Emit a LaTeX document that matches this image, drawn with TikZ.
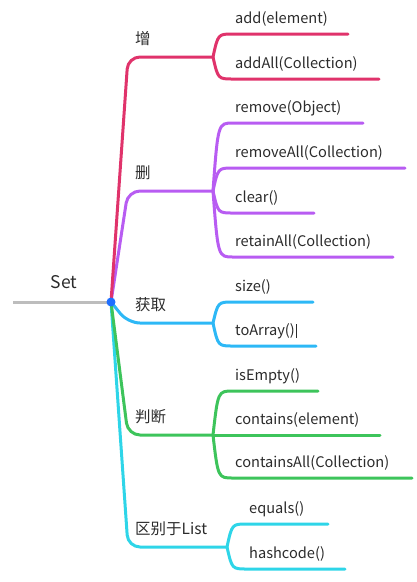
\documentclass[tikz,border=0pt]{standalone}
\usepackage{fontspec}
\setmainfont{Noto Sans CJK SC}
\usetikzlibrary{calc}
\definecolor{Ink}{HTML}{2B2B2B}
\definecolor{Ash}{HTML}{BDBDBD}
\definecolor{Dot}{HTML}{1E6FFF}
\definecolor{Rose}{HTML}{E0336B}
\definecolor{Violet}{HTML}{B85CF2}
\definecolor{Sky}{HTML}{2DB8F6}
\definecolor{Grass}{HTML}{3DC45B}
\definecolor{Aqua}{HTML}{2ED5E8}

\tikzset{
  limb/.style={line width=3pt,line cap=round},
  topic/.style={anchor=base west,inner xsep=0pt,text=Ink,font=\fontsize{15.5}{18}\selectfont},
  leaf/.style={anchor=base west,inner xsep=0pt,text=Ink,font=\fontsize{14.6}{17}\selectfont},
}
% main branch: root -> fork, sub branch: fork -> end of underline
\newcommand\bough[2]{\draw[limb,#1,rounded corners=12pt] (root) -- ($(root |- #2)+(17,0)$) -- (#2);}
\newcommand\twig[3]{\draw[limb,#1] (#2) .. controls ($(#2 |- #3)+(5,0)$) .. ($(#2 |- #3)+(20,0)$) -- (#3);}

\begin{document}
\begin{tikzpicture}[x=1pt,y=-1pt]
  \useasboundingbox (0,0) rectangle (417,582);

  \coordinate (root) at (111,302);
  \coordinate (tail) at (13,302);
  \draw[limb,Ash,line cap=butt] (tail) -- (root);
  \node[anchor=base,text=Ink,font=\fontsize{17.5}{20}\selectfont] (set) at (64,288) {Set};

  \coordinate (zeng) at (213,57);
  \coordinate (shan) at (213,191);
  \coordinate (huoqu) at (213,323);
  \coordinate (panduan) at (213,435);
  \coordinate (qubie) at (227,547);

  \bough{Violet}{shan}
  \bough{Rose}{zeng}
  \bough{Sky}{huoqu}
  \bough{Aqua}{qubie}
  \bough{Grass}{panduan}

  \node[topic] (zeng-t) at (135,44) {增};
  \node[topic] (shan-t) at (135,178) {删};
  \node[topic] (huoqu-t) at (135,310) {获取};
  \node[topic] (panduan-t) at (135,422) {判断};
  \node[topic] (qubie-t) at (135,534) {区别于List};

  \foreach \name/\txt/\yl/\xe in {add/add(element)/34/348,addAll/addAll(Collection)/79/379}{
    \node[leaf] (\name) at (235,\yl-11) {\txt};
    \coordinate (\name-e) at (\xe,\yl);
    \twig{Rose}{zeng}{\name-e}
  }
  \foreach \name/\txt/\yl/\xe in {remove/remove(Object)/123/363,removeAll/removeAll(Collection)/168/405,
      clear/clear()/213/314,retainAll/retainAll(Collection)/257/393}{
    \node[leaf] (\name) at (235,\yl-11) {\txt};
    \coordinate (\name-e) at (\xe,\yl);
    \twig{Violet}{shan}{\name-e}
  }
  \foreach \name/\txt/\yl/\xe in {size/size()/302/313,toArray/toArray()\kern1pt\rule[-3pt]{0.6pt}{14pt}/346/316}{
    \node[leaf] (\name) at (235,\yl-11) {\txt};
    \coordinate (\name-e) at (\xe,\yl);
    \twig{Sky}{huoqu}{\name-e}
  }
  \foreach \name/\txt/\yl/\xe in {isEmpty/isEmpty()/391/318,contains/contains(element)/435/380,
      containsAll/containsAll(Collection)/478/412}{
    \node[leaf] (\name) at (235,\yl-11) {\txt};
    \coordinate (\name-e) at (\xe,\yl);
    \twig{Grass}{panduan}{\name-e}
  }
  \foreach \name/\txt/\yl/\xe in {equals/equals()/524/328,hashcode/hashcode()/569/345}{
    \node[leaf] (\name) at (249,\yl-11) {\txt};
    \coordinate (\name-e) at (\xe,\yl);
    \twig{Aqua}{qubie}{\name-e}
  }

  \fill[Dot] (root) circle (4.5);
\end{tikzpicture}
\end{document}
